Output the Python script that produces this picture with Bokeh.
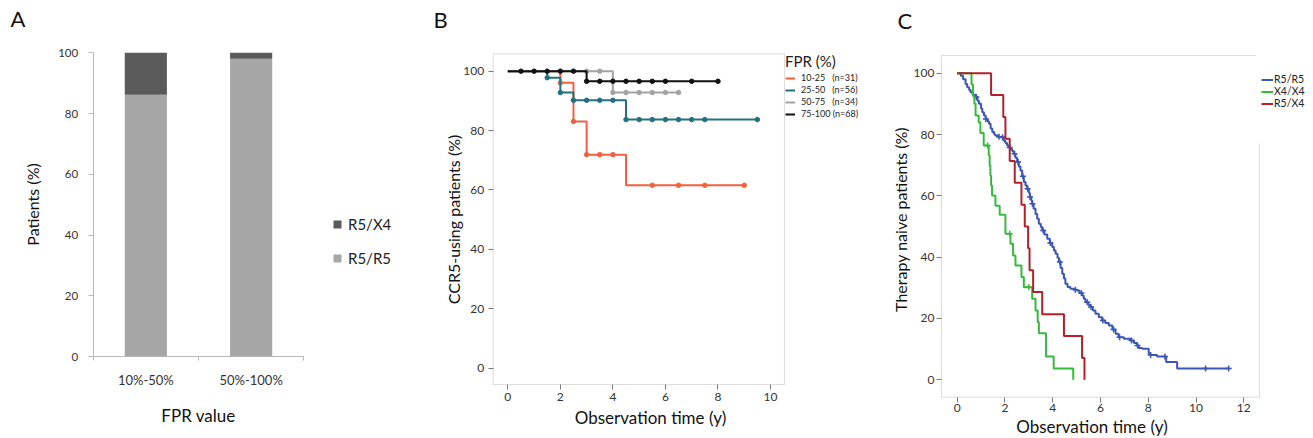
import numpy as np
from bokeh.plotting import figure
from bokeh.layouts import row
from bokeh.models import (Range1d, FixedTicker, Legend, LegendItem, Label, ColumnDataSource,
                          BoxAnnotation)
from bokeh.embed import file_html
from bokeh.resources import INLINE

FONT = "Lato"
TXT = "#333333"
H = 438

# ---------------- Panel A data ----------------
fpr_categories = ["10%-50%", "50%-100%"]
a_series = ["R5/R5", "R5/X4"]
r5r5_pct = [86.2, 98.0]
r5x4_pct = [13.8, 2.0]
a_colors = ["#a6a6a6", "#5a5a5a"]
a_ticks = [0, 20, 40, 60, 80, 100]

# ---------------- Panel B data ----------------
b_groups = ["10-25", "25-50", "50-75", "75-100"]
b_n = [31, 56, 34, 68]
b_colors = ["#f2603f", "#23707f", "#a3a3a3", "#111111"]
b_t_1025 = [0, 2, 2.5, 3, 4.5, 9]
b_s_1025 = [100, 96.1, 83.1, 71.9, 61.6, 61.6]
b_c_1025 = [2, 2.5, 3, 3.5, 4, 5.5, 6.5, 7.5, 9]
b_t_2550 = [0, 1.5, 2, 2.5, 4.5, 9.5]
b_s_2550 = [100, 97.8, 92.8, 90.2, 83.7, 83.7]
b_c_2550 = [1.5, 2, 2.5, 3, 3.5, 4, 4.5, 5, 5.5, 6, 6.5, 7, 7.5, 9.5]
b_t_5075 = [0, 4, 6.5]
b_s_5075 = [100, 92.8, 92.8]
b_c_5075 = [3, 3.5, 4, 4.5, 5, 5.5, 6, 6.5]
b_t_75100 = [0, 3, 8]
b_s_75100 = [100, 96.6, 96.6]
b_c_75100 = [0.5, 1, 1.5, 2, 2.5, 3, 3.5, 4, 4.5, 5, 5.5, 6, 7, 8]
b_xticks = [0, 2, 4, 6, 8, 10]
b_yticks = [0, 20, 40, 60, 80, 100]

# ---------------- Panel C data ----------------
c_groups = ["R5/R5", "X4/X4", "R5/X4"]
c_colors = ["#3b56b4", "#34bb3a", "#b3202a"]
c_t_r5r5 = [0, 0.15, 0.25, 0.35, 0.42, 0.5, 0.56, 0.65, 0.77, 0.85, 0.91, 1.0, 1.05, 1.12,
            1.19, 1.26, 1.33, 1.40, 1.47, 1.55, 1.6, 1.7, 1.81, 1.95, 2.02, 2.09, 2.16, 2.23,
            2.30, 2.37, 2.44, 2.51, 2.58, 2.65, 2.72, 2.79, 2.86, 2.93, 3.0, 3.04, 3.1, 3.14,
            3.2, 3.28, 3.35, 3.42, 3.5, 3.56, 3.65, 3.77, 3.88, 3.98, 4.05, 4.12, 4.2, 4.26,
            4.33, 4.4, 4.47, 4.53, 4.62, 4.74, 4.9, 5.02, 5.12, 5.23, 5.3, 5.37, 5.48, 5.58,
            5.68, 5.79, 5.93, 6.07, 6.2, 6.35, 6.5, 6.63, 6.76, 6.98, 7.26, 7.4, 7.53, 7.6,
            7.74, 8.02, 8.09, 8.37, 8.75, 9.21, 11.37]
c_s_r5r5 = [100, 99.2, 98.0, 96.5, 95.4, 94.5, 93.8, 93.0, 92.2, 91.0, 90.0, 88.5, 87.3, 86.2,
            85.1, 84.3, 83.5, 82.0, 80.8, 80.0, 79.7, 79.3, 79.1, 78.0, 77.2, 76.4, 75.8, 75.3,
            74.6, 73.7, 72.4, 71.0, 69.6, 68.3, 66.4, 64.5, 63.4, 62.3, 61.0, 59.6, 58.5, 57.4,
            55.8, 54.1, 52.5, 50.9, 49.8, 48.7, 47.4, 46.0, 44.6, 43.3, 42.2, 41.1, 39.8, 38.4,
            36.5, 34.6, 33.0, 31.3, 30.3, 29.7, 29.4, 29.1, 28.3, 27.5, 26.4, 25.3, 24.5, 23.7,
            22.6, 21.5, 20.4, 19.3, 18.5, 17.7, 16.4, 15.0, 13.9, 13.4, 12.8, 12.0, 11.2, 10.4,
            10.1, 8.5, 8.1, 7.6, 5.8, 3.7, 3.7]
c_c_r5r5 = [0.8, 1.2, 1.75, 1.9, 2.2, 2.4, 2.55, 2.75, 2.95, 3.05, 3.15, 3.6, 3.9, 4.3, 4.95,
            5.2, 5.45, 5.6, 6.1, 6.55, 6.8, 7.3, 7.55, 8.1, 8.7, 10.4, 11.37]
c_t_x4x4 = [0, 0.60, 0.66, 0.72, 0.77, 0.90, 0.97, 1.11, 1.32, 1.36, 1.39, 1.42, 1.46, 1.60,
            1.78, 2.02, 2.23, 2.34, 2.44, 2.69, 2.79, 3.14, 3.28, 3.37, 3.42, 3.72, 4.04, 4.86]
c_s_x4x4 = [100, 96.3, 92.6, 90.0, 86.2, 84.0, 80.5, 76.4, 73.2, 69.9, 66.6, 63.4, 60.1, 56.8,
            53.8, 47.6, 44.4, 40.5, 37.3, 33.5, 30.2, 26.4, 22.6, 18.8, 15.2, 7.6, 3.7, 0]
c_c_x4x4 = [1.28, 2.2, 3.0]
c_t_r5x4 = [0, 1.42, 1.93, 2.02, 2.2, 2.41, 2.69, 2.83, 2.97, 3.03, 3.18, 3.56, 4.47, 5.23, 5.33]
c_s_r5x4 = [100, 92.9, 85.7, 78.6, 71.4, 64.3, 57.1, 50.0, 42.9, 35.7, 28.6, 21.4, 14.3, 7.1, 0]
c_xticks = [0, 2, 4, 6, 8, 10, 12]
c_yticks = [0, 20, 40, 60, 80, 100]


def step_at(t, s, c):
    t = np.asarray(t, dtype=float)
    s = np.asarray(s, dtype=float)
    idx = np.searchsorted(t, np.asarray(c, dtype=float), side="right") - 1
    return s[idx]


def make_fig(w, xr, yr):
    p = figure(width=w, height=H, x_range=Range1d(*xr), y_range=Range1d(*yr),
               output_backend="svg", toolbar_location=None, title=None,
               min_border_left=0, min_border_right=0, min_border_top=0, min_border_bottom=0)
    p.grid.visible = False
    p.outline_line_color = None
    p.background_fill_color = "white"
    p.border_fill_color = "white"
    for ax in p.axis:
        ax.major_label_text_font = FONT
        ax.major_label_text_color = TXT
        ax.axis_label_text_font = FONT
        ax.axis_label_text_font_style = "normal"
        ax.axis_label_text_color = "#111111"
        ax.minor_tick_line_color = None
    return p


def letter(p, x, y, t):
    p.add_layout(Label(x=x, y=y, text=t, text_font=FONT, text_font_size="22px",
                       text_baseline="alphabetic", text_color="#111111"))


# ================= Panel A =================
pa = make_fig(430, (-0.880, 3.203), (-27.0, 117.22))
xa = np.arange(len(fpr_categories)) + 0.5
srcA = ColumnDataSource(dict(x=xa, r5r5=r5r5_pct, r5x4=r5x4_pct))
pa.vbar_stack(["r5r5", "r5x4"], x="x", width=0.4, color=a_colors,
              line_color=None, source=srcA)
# legend proxies (no visible points)
proxy = {}
for name, col in zip(a_series, a_colors):
    proxy[name] = pa.scatter(x=[np.nan], y=[np.nan], marker="square", size=8,
                             color=col, line_color=None)

pa.yaxis.fixed_location = 0
pa.yaxis.bounds = (0, 100)
pa.yaxis.ticker = FixedTicker(ticks=a_ticks)
pa.yaxis.axis_line_color = "#b8b8b8"
pa.yaxis.major_tick_line_color = "#b8b8b8"
pa.yaxis.major_tick_out = 5
pa.yaxis.major_tick_in = 0
pa.yaxis.major_label_text_font_size = "11.5px"
pa.yaxis.major_label_standoff = 10
pa.yaxis.axis_label = "Patients (%)"
pa.yaxis.axis_label_text_font_size = "16px"
pa.yaxis.axis_label_standoff = 13

pa.xaxis.fixed_location = 0
pa.xaxis.bounds = (0, len(fpr_categories))
pa.xaxis.ticker = FixedTicker(ticks=list(xa), minor_ticks=list(range(len(fpr_categories) + 1)))
pa.xaxis.major_label_overrides = {float(x): c for x, c in zip(xa, fpr_categories)}
pa.xaxis.axis_line_color = "#b8b8b8"
pa.xaxis.major_tick_line_color = None
pa.xaxis.major_tick_out = 0
pa.xaxis.minor_tick_line_color = "#b8b8b8"
pa.xaxis.minor_tick_out = 4
pa.xaxis.minor_tick_in = 0
pa.xaxis.major_label_text_font_size = "13px"
pa.xaxis.major_label_standoff = 11
pa.xaxis.axis_label = "FPR value"
pa.xaxis.axis_label_text_font_size = "17px"
pa.xaxis.axis_label_standoff = 14

legA = Legend(items=[LegendItem(label=n, renderers=[proxy[n]]) for n in reversed(a_series)],
              location=(327, 170), border_line_color=None, background_fill_alpha=0, padding=0, margin=0,
              spacing=14, glyph_width=20, glyph_height=20, label_height=20, label_standoff=1,
              label_text_font=FONT, label_text_font_size="15px", label_text_color="#222222")
pa.add_layout(legA)
letter(pa, -0.785, 111.3, "A")

# ================= Panel B =================
pb = make_fig(440, (-2.943, 13.807), (-23.67, 123.80))
pb.add_layout(BoxAnnotation(left=-0.556, right=10.533, bottom=-5.49, top=105.86,
                            fill_alpha=0, line_color="#8f8f8f", line_width=1))
b_series = [(b_t_1025, b_s_1025, b_c_1025), (b_t_2550, b_s_2550, b_c_2550),
            (b_t_5075, b_s_5075, b_c_5075), (b_t_75100, b_s_75100, b_c_75100)]
b_items = []
for (t, s, cz), g, n, col in zip(b_series, b_groups, b_n, b_colors):
    r = pb.step(x=t, y=s, mode="after", line_color=col, line_width=2)
    pb.scatter(x=cz, y=step_at(t, s, cz), marker="circle", size=4.5, color=col)
    pad = "   " if len(g) == 5 else " "
    b_items.append(LegendItem(label=f"{g}{pad}(n={n})", renderers=[r]))

for ax in pb.axis:
    ax.axis_line_color = None
    ax.major_tick_line_color = "#777777"
    ax.major_tick_out = 5
    ax.major_tick_in = 0
    ax.major_label_text_font_size = "12px"
pb.xaxis.fixed_location = -5.49
pb.yaxis.fixed_location = -0.556
pb.xaxis.ticker = FixedTicker(ticks=b_xticks)
pb.yaxis.ticker = FixedTicker(ticks=b_yticks)
pb.yaxis.major_label_standoff = 4
pb.xaxis.major_label_standoff = 3
pb.yaxis.axis_label = "CCR5-using patients (%)"
pb.yaxis.axis_label_text_font_size = "16px"
pb.yaxis.axis_label_standoff = -2
pb.xaxis.axis_label = "Observation time (y)"
pb.xaxis.axis_label_text_font_size = "17px"
pb.xaxis.axis_label_standoff = 3

legB = Legend(items=b_items, location=(355, 319), border_line_color=None, background_fill_alpha=0,
              padding=0, margin=0, spacing=1, glyph_width=10, glyph_height=10, label_height=10,
              label_standoff=6, label_text_font=FONT, label_text_font_size="9px",
              label_text_color="#222222", title="FPR (%)", title_text_font=FONT,
              title_text_font_size="15px", title_text_font_style="normal", title_standoff=2,
              title_text_color="#222222")
pb.add_layout(legB)
letter(pb, -2.828, 117.4, "B")

# ================= Panel C =================
pc = make_fig(443, (-3.630, 14.920), (-19.15, 123.71))
pc.add_layout(BoxAnnotation(left=-0.657, right=12.657, bottom=-5.675, top=105.77,
                            fill_alpha=0, line_color="#8f8f8f", line_width=1))
c_series = [(c_t_r5r5, c_s_r5r5, c_c_r5r5), (c_t_x4x4, c_s_x4x4, c_c_x4x4), (c_t_r5x4, c_s_r5x4, [])]
c_items = []
for (t, s, cz), g, col in zip(c_series, c_groups, c_colors):
    r = pc.step(x=t, y=s, mode="after", line_color=col, line_width=2)
    if len(cz):
        pc.scatter(x=cz, y=step_at(t, s, cz), marker="cross", size=6, line_width=1.5, color=col)
    c_items.append(LegendItem(label=g, renderers=[r]))

for ax in pc.axis:
    ax.axis_line_color = None
    ax.major_tick_line_color = "#777777"
    ax.major_tick_out = 5
    ax.major_tick_in = 0
    ax.major_label_text_font_size = "12px"
    ax.major_label_standoff = 2
pc.xaxis.fixed_location = -5.675
pc.yaxis.fixed_location = -0.657
pc.xaxis.ticker = FixedTicker(ticks=c_xticks)
pc.yaxis.ticker = FixedTicker(ticks=c_yticks)
pc.yaxis.axis_label = "Therapy naive patients (%)"
pc.yaxis.axis_label_text_font_size = "16px"
pc.yaxis.axis_label_standoff = 1
pc.xaxis.axis_label = "Observation time (y)"
pc.xaxis.axis_label_text_font_size = "17px"
pc.xaxis.axis_label_standoff = 0

# legend background hides part of the frame's right edge, as in the reference
pc.add_layout(BoxAnnotation(left=12.5, right=12.85, bottom=77.1, top=106.5,
                            fill_color="white", fill_alpha=1, line_color=None))
legC = Legend(items=c_items, location=(391, 329), border_line_color=None, background_fill_alpha=0,
              padding=0, margin=0, spacing=0, glyph_width=12, glyph_height=11, label_height=11,
              label_standoff=1, label_text_font=FONT, label_text_font_size="10.5px",
              label_text_color="#222222")
pc.add_layout(legC)
letter(pc, -2.5, 117.2, "C")

layout = row(pa, pb, pc)
open("out.html", "w").write(file_html(layout, INLINE, "Figure"))
